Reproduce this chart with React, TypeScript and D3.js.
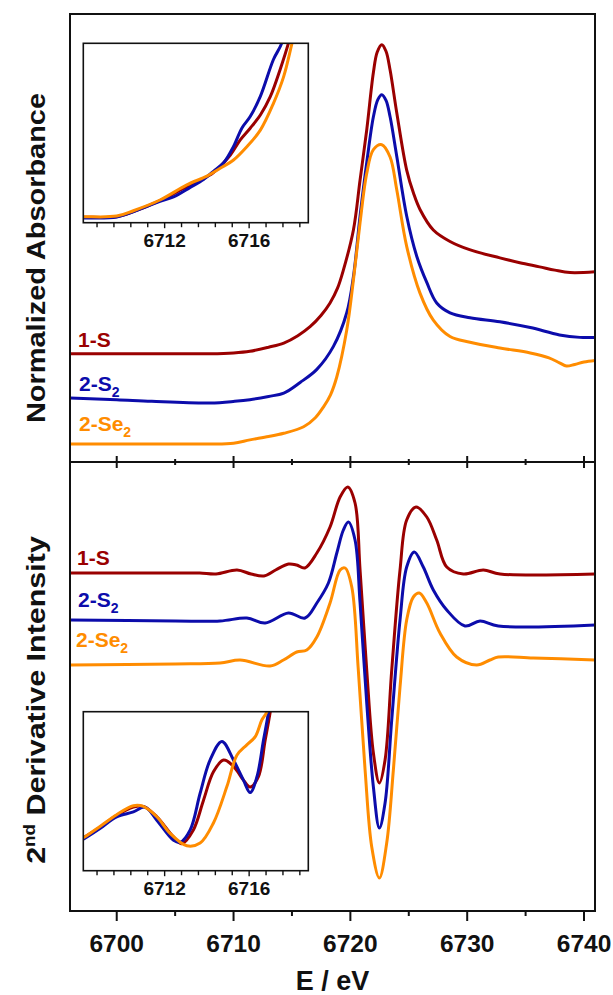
import React, { useLayoutEffect, useRef, useState } from 'react';
import * as d3 from 'd3';

type P = [number, number];

// ---------- Series metadata ----------
const seriesNames = ['1-S', '2-S2', '2-Se2'];
const seriesColors = ['#9a0000', '#0c0cab', '#ff8c00'];
const absOffsets = [1.1, 0.54, 0];
const derivOffsets = [0.9, 0.4, 0];

// ---------- Main x-axis ticks ----------
const mainTicks = [6700, 6705, 6710, 6715, 6720, 6725, 6730, 6735, 6740];
const mainTickLabels = ['6700', '6710', '6720', '6730', '6740'];
const insetMajorTicks = [6712, 6716];

// ---------- Normalized absorbance (top panel) ----------
const abs1S: P[] = [
  [6696, 0.0], [6700, 0.0], [6704, 0.0], [6708, 0.0], [6710, 0.01], [6711.4, 0.03], [6713, 0.08],
  [6714.3, 0.13], [6715.5, 0.22], [6716.55, 0.33], [6717.5, 0.47], [6718.26, 0.62], [6718.9, 0.8],
  [6719.4, 1.02], [6720.26, 1.51], [6720.83, 2.12], [6721.4, 2.73], [6721.97, 3.43], [6722.3, 3.68],
  [6722.69, 3.77], [6723.05, 3.69], [6723.4, 3.46], [6723.97, 2.94], [6724.82, 2.24], [6725.4, 1.96],
  [6725.96, 1.76], [6727.1, 1.51], [6728.53, 1.37], [6730.2, 1.27], [6732.8, 1.17], [6734.5, 1.11],
  [6736.2, 1.06], [6737.5, 1.02], [6738.8, 0.99], [6741, 1.0],
];
const abs2S2: P[] = [
  [6696, 0.02], [6700, 0.0], [6703, -0.02], [6708, -0.04], [6710.1, -0.02], [6711.4, 0.0], [6713, 0.04],
  [6714.3, 0.08], [6715.7, 0.21], [6717.13, 0.37], [6718.55, 0.65], [6719.69, 1.06], [6720.26, 1.5],
  [6720.83, 2.24], [6721.4, 2.89], [6721.97, 3.45], [6722.35, 3.66], [6722.69, 3.72], [6723.05, 3.65],
  [6723.4, 3.45], [6723.97, 2.97], [6724.82, 2.24], [6725.68, 1.75], [6726.54, 1.43], [6727.39, 1.18],
  [6728.53, 1.06], [6730.24, 1.0], [6732.8, 0.95], [6735.4, 0.88], [6737.9, 0.79], [6739.65, 0.76],
  [6741, 0.76],
];
const abs2Se2: P[] = [
  [6696, 0.0], [6704, 0.0], [6708, 0.0], [6710, 0.01], [6711.4, 0.05], [6713, 0.09], [6714.3, 0.13],
  [6716.0, 0.21], [6717, 0.32], [6717.69, 0.45], [6718.3, 0.6], [6718.84, 0.82], [6719.69, 1.39],
  [6720.26, 2.0], [6720.83, 2.7], [6721.4, 3.3], [6721.97, 3.59], [6722.69, 3.65], [6723.4, 3.5],
  [6723.97, 3.1], [6724.82, 2.41], [6725.96, 1.84], [6727.1, 1.51], [6728.53, 1.31], [6730.24, 1.24],
  [6732.8, 1.17], [6735.4, 1.11], [6737.0, 1.05], [6737.9, 0.99], [6738.5, 0.95], [6739.2, 0.97],
  [6740.0, 1.0], [6741, 1.02],
];

// ---------- Pre-edge inset of absorbance ----------
const absInset1S: P[] = [
  [6708.0, 0.006], [6708.23, 0.007], [6709.73, 0.009], [6710.52, 0.025], [6711.78, 0.06], [6713.05, 0.104],
  [6714.0, 0.136], [6714.31, 0.149], [6715.11, 0.205], [6715.58, 0.253], [6716.05, 0.29], [6716.53, 0.332],
  [6717.0, 0.39], [6717.46, 0.475], [6717.86, 0.56], [6718.2, 0.65],
];
const absInset2S2: P[] = [
  [6708.0, 0.005], [6708.23, 0.005], [6709.73, 0.008], [6710.99, 0.037], [6711.78, 0.058], [6712.42, 0.072],
  [6713.21, 0.102], [6713.84, 0.127], [6714.31, 0.153], [6714.79, 0.18], [6715.26, 0.232], [6715.66, 0.291],
  [6716.05, 0.327], [6716.53, 0.391], [6717.15, 0.508], [6717.55, 0.561], [6717.8, 0.64],
];
const absInset2Se2: P[] = [
  [6708.0, 0.009], [6708.23, 0.009], [6709.73, 0.011], [6710.52, 0.028], [6711.78, 0.062], [6713.05, 0.11],
  [6714.0, 0.138], [6714.63, 0.163], [6715.26, 0.189], [6715.89, 0.231], [6716.53, 0.284], [6717.15, 0.369],
  [6717.63, 0.453], [6718.03, 0.56], [6718.4, 0.665],
];

// ---------- 2nd derivative (bottom panel) ----------
const der1S: P[] = [
  [6696, 0.0], [6705, 0.0], [6707.1, 0.0], [6708.5, -0.01], [6710.3, 0.03], [6711.5, -0.01], [6712.6, -0.03],
  [6713.6, 0.03], [6714.7, 0.09], [6715.4, 0.08], [6716.1, 0.05], [6717.13, 0.2], [6718.26, 0.46],
  [6719.12, 0.76], [6719.78, 0.86], [6720.4, 0.7], [6720.83, 0.03], [6721.4, -0.97], [6721.97, -1.8],
  [6722.48, -2.1], [6722.97, -1.87], [6723.54, -0.97], [6724.25, 0.03], [6724.82, 0.53], [6725.62, 0.66],
  [6726.54, 0.56], [6727.39, 0.33], [6728.25, 0.06], [6729.67, -0.01], [6731.38, 0.03], [6732.81, -0.01],
  [6741, -0.01],
];
const der2S2: P[] = [
  [6696, 0.03], [6705, 0.02], [6708.85, 0.02], [6711.14, 0.05], [6712.7, 0.0], [6714.7, 0.1], [6716.12, 0.05],
  [6717.13, 0.2], [6718.12, 0.4], [6718.84, 0.7], [6719.4, 0.93], [6719.83, 1.01], [6720.4, 0.83],
  [6720.83, 0.2], [6721.4, -0.8], [6721.97, -1.64], [6722.48, -2.05], [6722.97, -1.8], [6723.54, -0.97],
  [6724.25, 0.03], [6724.82, 0.56], [6725.47, 0.71], [6726.24, 0.56], [6727.1, 0.33], [6728.25, 0.13],
  [6729.81, -0.03], [6731.1, 0.02], [6732.66, -0.03], [6741, -0.02],
];
const der2Se2: P[] = [
  [6696, -0.02], [6705, -0.01], [6708.85, 0.0], [6710.56, 0.03], [6713.13, -0.03], [6714.27, 0.03],
  [6715.41, 0.11], [6716.27, 0.13], [6717.13, 0.26], [6718.26, 0.6], [6719.12, 0.93], [6719.55, 0.95],
  [6720.12, 0.76], [6720.68, -0.07], [6721.26, -1.07], [6721.83, -1.84], [6722.48, -2.15], [6723.11, -1.8],
  [6723.68, -1.07], [6724.25, -0.24], [6724.82, 0.43], [6725.39, 0.66], [6725.9, 0.7], [6726.54, 0.6],
  [6727.67, 0.3], [6729.1, 0.06], [6730.81, -0.02], [6731.95, 0.03], [6732.66, 0.06], [6735.65, 0.05],
  [6741, 0.03],
];

// ---------- Pre-edge inset of 2nd derivative ----------
const derInset1S: P[] = [
  [6708.0, -0.015], [6708.23, -0.011], [6708.94, 0.003], [6709.73, 0.02], [6710.52, 0.032], [6710.99, 0.033],
  [6711.63, 0.018], [6712.42, -0.011], [6712.81, -0.021], [6713.36, -0.001], [6713.84, 0.042],
  [6714.31, 0.083], [6714.79, 0.1], [6715.26, 0.091], [6715.73, 0.071], [6716.05, 0.061], [6716.44, 0.076],
  [6716.76, 0.129], [6717.0, 0.17], [6717.15, 0.2],
];
const derInset2S2: P[] = [
  [6708.0, -0.017], [6708.23, -0.013], [6708.94, 0.001], [6709.73, 0.018], [6710.52, 0.025], [6711.07, 0.032],
  [6711.63, 0.013], [6712.42, -0.016], [6712.73, -0.019], [6713.21, -0.001], [6713.68, 0.052],
  [6714.15, 0.1], [6714.71, 0.127], [6715.26, 0.1], [6715.73, 0.071], [6716.05, 0.053], [6716.37, 0.076],
  [6716.68, 0.129], [6716.92, 0.17], [6717.05, 0.2],
];
const derInset2Se2: P[] = [
  [6708.0, -0.015], [6708.23, -0.011], [6708.94, 0.004], [6709.73, 0.021], [6710.52, 0.034], [6710.99, 0.033],
  [6711.63, 0.018], [6712.26, -0.006], [6713.05, -0.024], [6713.68, -0.02], [6714.31, 0.009],
  [6714.95, 0.062], [6715.42, 0.107], [6715.89, 0.122], [6716.29, 0.134], [6716.6, 0.158], [6716.84, 0.17],
  [6717.0, 0.2],
];

const absSeries = [abs1S, abs2S2, abs2Se2];
const absInsetSeries = [absInset1S, absInset2S2, absInset2Se2];
const derSeries = [der1S, der2S2, der2Se2];
const derInsetSeries = [derInset1S, derInset2S2, derInset2Se2];

const FONT = "'Liberation Sans', Arial, Helvetica, sans-serif";

function SeriesLabel({ name, x, y, color }: { name: string; x: number; y: number; color: string }) {
  const m = name.match(/^(.*?)(\d)$/);
  const main = m ? m[1] : name;
  const sub = m ? m[2] : '';
  return (
    <text x={x} y={y} fill={color} fontFamily={FONT} fontWeight="bold" fontSize={21}>
      {main}
      {sub && (
        <tspan fontSize={14} dy={6}>
          {sub}
        </tspan>
      )}
    </text>
  );
}

export default function App() {
  const W = 613;
  const H = 995;
  const L = 70, R = 595, T = 14, MID = 462, B = 911;
  const iL = 83.3, iR = 308.3;
  const iT1 = 43.3, iB1 = 222.7;
  const iT2 = 711.7, iB2 = 870.7;

  const x = d3.scaleLinear().domain([6696, 6740.94]).range([L, R]);
  const yTop = d3.scaleLinear().domain([-0.22, 5.244]).range([MID, T]);
  const yBot = d3.scaleLinear().domain([-2.48, 2.01]).range([B, MID]);
  const xi = d3.scaleLinear().domain([6708.15, 6718.8]).range([iL, iR]);
  const yiTop = d3.scaleLinear().domain([-0.01, 0.5595]).range([iB1, iT1]);
  const yiBot = d3.scaleLinear().domain([-0.06, 0.17]).range([iB2, iT2]);

  const mk = (xs: any, ys: any, off: number) =>
    d3
      .line<P>()
      .x((d) => xs(d[0]))
      .y((d) => ys(d[1] + off))
      .curve(d3.curveCatmullRom.alpha(0.5));

  const insetTicks = d3.range(0, 13).map((i) => 6708.8 + i * 0.8);

  const lab1 = useRef<SVGTextElement>(null);
  const lab2 = useRef<SVGTextElement>(null);
  const [sc, setSc] = useState<[number, number]>([1, 1]);
  useLayoutEffect(() => {
    const w1 = lab1.current ? lab1.current.getBBox().width : 0;
    const w2 = lab2.current ? lab2.current.getBBox().width : 0;
    const s1 = w1 > 0 ? 330 / w1 : 1;
    const s2 = w2 > 0 ? 328 / w2 : 1;
    if (Math.abs(s1 - sc[0]) > 0.001 || Math.abs(s2 - sc[1]) > 0.001) setSc([s1, s2]);
  }, [sc]);

  const drawOrder = [0, 1, 2];

  return (
    <svg
      width={W}
      height={H}
      viewBox={`0 0 ${W} ${H}`}
      style={{ position: 'absolute', left: 0, top: 0, background: '#fff' }}
    >
      <defs>
        <clipPath id="clipTop">
          <rect x={L} y={T} width={R - L} height={MID - T} />
        </clipPath>
        <clipPath id="clipBot">
          <rect x={L} y={MID} width={R - L} height={B - MID} />
        </clipPath>
        <clipPath id="clipI1">
          <rect x={iL} y={iT1} width={iR - iL} height={iB1 - iT1} />
        </clipPath>
        <clipPath id="clipI2">
          <rect x={iL} y={iT2} width={iR - iL} height={iB2 - iT2} />
        </clipPath>
      </defs>
      <rect x={0} y={0} width={W} height={H} fill="#fff" />

      {/* main curves */}
      <g clipPath="url(#clipTop)">
        {drawOrder.map((i) => (
          <path
            key={'a' + i}
            d={mk(x, yTop, absOffsets[i])(absSeries[i]) || ''}
            fill="none"
            stroke={seriesColors[i]}
            strokeWidth={3}
            strokeLinejoin="round"
          />
        ))}
      </g>
      <g clipPath="url(#clipBot)">
        {drawOrder.map((i) => (
          <path
            key={'d' + i}
            d={mk(x, yBot, derivOffsets[i])(derSeries[i]) || ''}
            fill="none"
            stroke={seriesColors[i]}
            strokeWidth={3}
            strokeLinejoin="round"
          />
        ))}
      </g>

      {/* frame */}
      <rect x={L} y={T} width={R - L} height={B - T} fill="none" stroke="#111" strokeWidth={2} />
      <line x1={L} x2={R} y1={MID} y2={MID} stroke="#111" strokeWidth={2} />

      {/* ticks on divider (both sides) and bottom (outward) */}
      {mainTicks.map((t) => {
        const major = t % 10 === 0;
        const xx = x(t);
        return (
          <g key={'t' + t}>
            <line x1={xx} x2={xx} y1={MID - (major ? 6 : 3)} y2={MID + (major ? 6 : 3)} stroke="#111" strokeWidth={2} />
            <line x1={xx} x2={xx} y1={B} y2={B + (major ? 10 : 5)} stroke="#111" strokeWidth={2} />
          </g>
        );
      })}
      {mainTickLabels.map((s) => (
        <text
          key={'l' + s}
          x={x(+s)}
          y={952}
          textAnchor="middle"
          fontFamily={FONT}
          fontWeight="bold"
          fontSize={24.5}
          fill="#111"
        >
          {s}
        </text>
      ))}
      <text x={(L + R) / 2} y={990} textAnchor="middle" fontFamily={FONT} fontWeight="bold" fontSize={27} fill="#111">
        E / eV
      </text>

      {/* y labels */}
      <g transform={`translate(45,258) rotate(-90) scale(${sc[0]},1)`}>
        <text ref={lab1} x={0} y={0} textAnchor="middle" fontFamily={FONT} fontWeight="bold" fontSize={26} fill="#111">
          Normalized Absorbance
        </text>
      </g>
      <g transform={`translate(45,700) rotate(-90) scale(${sc[1]},1)`}>
        <text ref={lab2} x={0} y={0} textAnchor="middle" fontFamily={FONT} fontWeight="bold" fontSize={26} fill="#111">
          2
          <tspan fontSize={16} dy={-10}>
            nd
          </tspan>
          <tspan dy={10}> Derivative Intensity</tspan>
        </text>
      </g>

      {/* series labels */}
      <SeriesLabel name={seriesNames[0]} x={78} y={347} color={seriesColors[0]} />
      <SeriesLabel name={seriesNames[1]} x={79} y={391} color={seriesColors[1]} />
      <SeriesLabel name={seriesNames[2]} x={79} y={431} color={seriesColors[2]} />
      <SeriesLabel name={seriesNames[0]} x={77} y={565} color={seriesColors[0]} />
      <SeriesLabel name={seriesNames[1]} x={78} y={607} color={seriesColors[1]} />
      <SeriesLabel name={seriesNames[2]} x={76} y={647} color={seriesColors[2]} />

      {/* insets */}
      {[
        { top: iT1, bot: iB1, yi: yiTop, data: absInsetSeries, clip: 'clipI1' },
        { top: iT2, bot: iB2, yi: yiBot, data: derInsetSeries, clip: 'clipI2' },
      ].map((ins, k) => (
        <g key={'ins' + k}>
          <rect x={iL} y={ins.top} width={iR - iL} height={ins.bot - ins.top} fill="#fff" />
          <g clipPath={`url(#${ins.clip})`}>
            {drawOrder.map((i) => (
              <path
                key={'ip' + i}
                d={mk(xi, ins.yi, 0)(ins.data[i]) || ''}
                fill="none"
                stroke={seriesColors[i]}
                strokeWidth={3}
                strokeLinejoin="round"
              />
            ))}
          </g>
          <rect x={iL} y={ins.top} width={iR - iL} height={ins.bot - ins.top} fill="none" stroke="#111" strokeWidth={1.6} />
          {insetTicks.map((t, j) => {
            const major = insetMajorTicks.some((m) => Math.abs(m - t) < 1e-6);
            return (
              <line
                key={'it' + j}
                x1={xi(t)}
                x2={xi(t)}
                y1={ins.bot}
                y2={ins.bot + (major ? 5.5 : 4.5)}
                stroke="#111"
                strokeWidth={1.4}
              />
            );
          })}
          {insetMajorTicks.map((t) => (
            <text
              key={'il' + t}
              x={xi(t)}
              y={ins.bot + 24}
              textAnchor="middle"
              fontFamily={FONT}
              fontWeight="bold"
              fontSize={19}
              fill="#111"
            >
              {t}
            </text>
          ))}
        </g>
      ))}
    </svg>
  );
}
